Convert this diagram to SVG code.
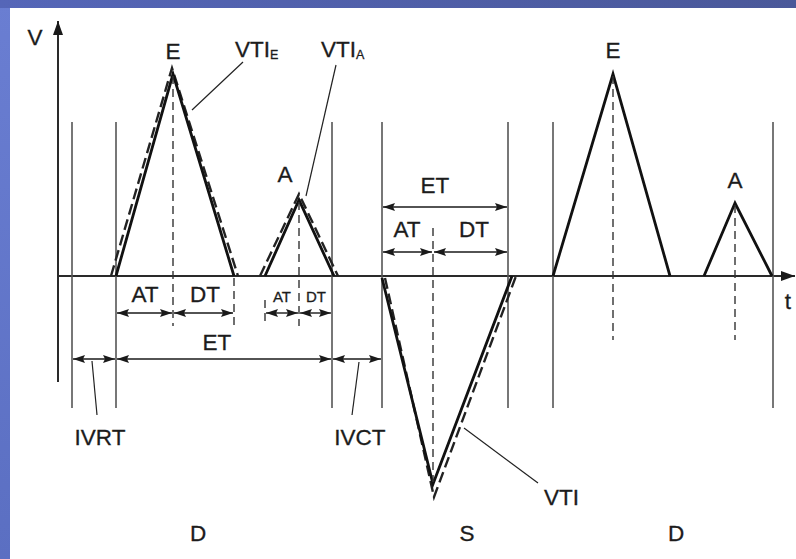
<svg xmlns="http://www.w3.org/2000/svg" width="796" height="559" viewBox="0 0 796 559">
  <defs>
    <linearGradient id="bgTop" x1="0" y1="0" x2="1" y2="0">
      <stop offset="0" stop-color="#5566b8"/>
      <stop offset="1" stop-color="#4a5899"/>
    </linearGradient>
    <linearGradient id="bgLeft" x1="0" y1="0" x2="0" y2="1">
      <stop offset="0" stop-color="#6a7ed2"/>
      <stop offset="1" stop-color="#5b6fc2"/>
    </linearGradient>
    <marker id="ah" viewBox="0 0 12 8" refX="12" refY="4" markerWidth="12" markerHeight="8" markerUnits="userSpaceOnUse" orient="auto-start-reverse">
      <path d="M0,0 L12,4 L0,8 L2,4 Z" fill="#1a1a1a"/>
    </marker>
    <marker id="axisHead" viewBox="0 0 14 10" refX="14" refY="5" markerWidth="14" markerHeight="10" markerUnits="userSpaceOnUse" orient="auto">
      <path d="M0,0 L14,5 L0,10 Z" fill="#1a1a1a"/>
    </marker>
  </defs>
  <style>
    text { font-family: "Liberation Sans", Arial, sans-serif; fill: #1c1c1c; text-anchor: middle; stroke: #1c1c1c; stroke-width: 0.3; }
    .lbl { font-size: 22.5px; }
    .sm { font-size: 15px; }
    .sub { font-size: 12.5px; }
    .axis { stroke: #2a2a2a; stroke-width: 2; fill: none; }
    .grid { stroke: #555; stroke-width: 1.6; fill: none; }
    .wave { stroke: #111; stroke-width: 2.8; fill: none; stroke-linejoin: miter; }
    .waveDash { stroke: #222; stroke-width: 2.4; fill: none; stroke-dasharray: 11 5; }
    .guide { stroke: #333; stroke-width: 1.4; fill: none; stroke-dasharray: 8 5; }
    .dim { stroke: #1a1a1a; stroke-width: 1.4; fill: none; marker-start: url(#ah); marker-end: url(#ah); }
    .leader { stroke: #222; stroke-width: 1.2; fill: none; }
  </style>

  <!-- slide background -->
  <rect x="0" y="0" width="796" height="559" fill="url(#bgLeft)"/>
  <rect x="0" y="0" width="796" height="8" fill="url(#bgTop)"/>
  <rect x="10" y="8" width="786" height="551" fill="#ffffff"/>

  <!-- axes -->
  <g id="axes">
    <line class="axis" x1="58" y1="382" x2="58" y2="21" marker-end="url(#axisHead)"/>
    <line class="axis" x1="58" y1="276" x2="795" y2="276" marker-end="url(#axisHead)"/>
    <text class="lbl" x="35" y="45">V</text>
    <text class="lbl" x="788" y="309">t</text>
  </g>

  <!-- phase boundaries -->
  <g id="boundaries">
    <line class="grid" x1="72" y1="122" x2="72" y2="408"/>
    <line class="grid" x1="116" y1="122" x2="116" y2="408"/>
    <line class="grid" x1="332" y1="122" x2="332" y2="408"/>
    <line class="grid" x1="382" y1="122" x2="382" y2="408"/>
    <line class="grid" x1="508" y1="122" x2="508" y2="408"/>
    <line class="grid" x1="553" y1="122" x2="553" y2="408"/>
    <line class="grid" x1="773" y1="122" x2="773" y2="408"/>
  </g>

  <!-- diastolic E wave (left) -->
  <g id="wave-E1">
    <polyline class="waveDash" points="111,276 172,68 238,276"/>
    <polyline class="wave" points="116,276 173,74 234,276"/>
    <line class="guide" x1="173" y1="76" x2="173" y2="326"/>
    <text class="lbl" x="173" y="59">E</text>
  </g>

  <!-- diastolic A wave (left) -->
  <g id="wave-A1">
    <polyline class="waveDash" points="260,276 299,194 338,276"/>
    <polyline class="wave" points="265,276 299,200 334,276"/>
    <line class="guide" x1="299" y1="202" x2="299" y2="326"/>
    <text class="lbl" x="285" y="182">A</text>
  </g>

  <!-- systolic S wave -->
  <g id="wave-S">
    <polyline class="waveDash" points="385,278 434,497 516,276"/>
    <polyline class="wave" points="382,278 433,484 512,276"/>
    <line class="guide" x1="433" y1="228" x2="433" y2="482"/>
    <text class="lbl" x="467" y="541">S</text>
  </g>

  <!-- diastolic E wave (right) -->
  <g id="wave-E2">
    <polyline class="wave" points="553,276 613,74 670,276"/>
    <line class="guide" x1="613" y1="76" x2="613" y2="340"/>
    <text class="lbl" x="613" y="58">E</text>
  </g>

  <!-- diastolic A wave (right) -->
  <g id="wave-A2">
    <polyline class="wave" points="704,276 735,203 772,276"/>
    <line class="guide" x1="735" y1="205" x2="735" y2="340"/>
    <text class="lbl" x="735" y="188">A</text>
  </g>

  <!-- VTI labels -->
  <g id="vti-E">
    <text class="lbl" x="235" y="57" style="text-anchor:start">VTI<tspan class="sub" dy="2">E</tspan></text>
  </g>
  <g id="vti-A">
    <text class="lbl" x="321" y="57" style="text-anchor:start">VTI<tspan class="sub" dy="2">A</tspan></text>
  </g>
  <g id="vti-S">
    <text class="lbl" x="544" y="505" style="text-anchor:start">VTI</text>
  </g>

  <!-- interval labels -->
  <g id="intervals">
    <line class="guide" x1="234" y1="278" x2="234" y2="326"/>
    <line class="guide" x1="265" y1="300" x2="265" y2="326"/>
    <text class="lbl" x="145" y="302">AT</text>
    <text class="lbl" x="205" y="302">DT</text>
    <text class="sm" x="282" y="302">AT</text>
    <text class="sm" x="316" y="302">DT</text>
    <text class="lbl" x="217" y="350">ET</text>
    <text class="lbl" x="100" y="445">IVRT</text>
    <text class="lbl" x="360" y="445">IVCT</text>
    <text class="lbl" x="435" y="193">ET</text>
    <text class="lbl" x="407" y="237">AT</text>
    <text class="lbl" x="474" y="237">DT</text>
    <text class="lbl" x="198" y="541">D</text>
    <text class="lbl" x="676" y="541">D</text>
  </g>

  <!-- dimension arrows and leader lines -->
  <g id="connectors">
    <line class="dim" x1="117" y1="313" x2="172" y2="313"/>
    <line class="dim" x1="174" y1="313" x2="233" y2="313"/>
    <line class="dim" x1="266" y1="313" x2="298" y2="313"/>
    <line class="dim" x1="300" y1="313" x2="331" y2="313"/>
    <line class="dim" x1="73" y1="359" x2="115" y2="359"/>
    <line class="dim" x1="117" y1="359" x2="331" y2="359"/>
    <line class="dim" x1="333" y1="359" x2="381" y2="359"/>
    <line class="dim" x1="383" y1="207" x2="507" y2="207"/>
    <line class="dim" x1="383" y1="252" x2="432" y2="252"/>
    <line class="dim" x1="434" y1="252" x2="507" y2="252"/>
    <line class="leader" x1="92" y1="361" x2="97" y2="415"/>
    <line class="leader" x1="359" y1="362" x2="352" y2="415"/>
    <line class="leader" x1="243" y1="62" x2="192" y2="110"/>
    <line class="leader" x1="336" y1="65" x2="306" y2="196"/>
    <line class="leader" x1="464" y1="428" x2="538" y2="483"/>
  </g>
</svg>
